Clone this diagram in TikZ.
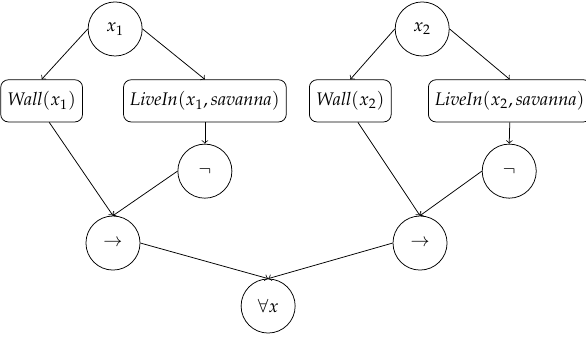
\documentclass[tikz,border=0pt]{standalone}
\usepackage{mathpazo}

\begin{document}
\begin{tikzpicture}[>=to,
  cerchio/.style={draw,circle,minimum size=1cm,inner sep=0pt,font=\fontsize{9.6}{11.5}\selectfont},
  scatola/.style={draw,rounded corners=4pt,minimum height=0.78cm,inner sep=3.5pt,font=\fontsize{9.6}{11.5}\selectfont}]
\useasboundingbox (0,0) rectangle (10.84,6.216);

% --- Parte sinistra: x_1 ---
\node[cerchio] (x1) at (2.13,5.68) {$x_1$};
\node[scatola] (wall1) at (0.77,4.35) {$\mathit{Wall}(x_1)$};
\node[scatola] (live1) at (3.79,4.35) {$\mathit{LiveIn}(x_1, \mathit{savanna})$};
\node[cerchio] (neg1) at (3.79,3.05) {$\neg$};
\node[cerchio] (imp1) at (2.09,1.72) {$\rightarrow$};

% --- Parte destra: x_2 ---
\node[cerchio] (x2) at (7.81,5.68) {$x_2$};
\node[scatola] (wall2) at (6.48,4.35) {$\mathit{Wall}(x_2)$};
\node[scatola] (live2) at (9.43,4.35) {$\mathit{LiveIn}(x_2, \mathit{savanna})$};
\node[cerchio] (neg2) at (9.42,3.05) {$\neg$};
\node[cerchio] (imp2) at (7.77,1.72) {$\rightarrow$};

% Quantificatore
\node[cerchio] (forall) at (4.96,0.555) {$\forall x$};

% Archi
\draw[->] (x1.west) -- (wall1.north);
\draw[->] (x1.east) -- (live1.north);
\draw[->] (live1.south) -- (neg1.north);
\draw[->] ([xshift=4pt]wall1.south) -- (imp1.north);
\draw[->] (neg1.west) -- (imp1.north);

\draw[->] (x2.west) -- (wall2.north);
\draw[->] (x2.east) -- (live2.north);
\draw[->] (live2.south) -- (neg2.north);
\draw[->] ([xshift=4pt]wall2.south) -- (imp2.north);
\draw[->] (neg2.west) -- (imp2.north);

\draw[->] (imp1.east) -- (forall.north);
\draw[->] (imp2.west) -- (forall.north);

\end{tikzpicture}
\end{document}
